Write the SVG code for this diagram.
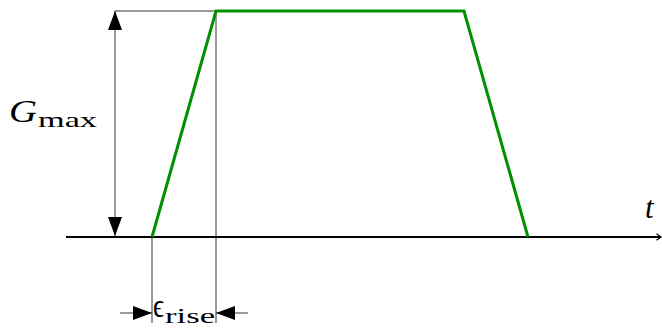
<svg xmlns="http://www.w3.org/2000/svg" width="662" height="329" viewBox="0 0 662 329">
<style>
.thin{stroke:#000;stroke-width:0.8;fill:none}
.axis{stroke:#000;stroke-width:2.2;fill:none}
.sig{stroke:#009000;stroke-width:3;fill:none;stroke-linejoin:miter}
.lbl{font-family:"Liberation Serif","DejaVu Serif",serif;fill:#000}
.it{font-style:italic}
</style>
<defs>
<marker id="ah" viewBox="0 0 19 14" refX="19" refY="7" markerWidth="19" markerHeight="14" markerUnits="userSpaceOnUse" orient="auto">
<path d="M0,0 L19,7 L0,14 Z" fill="#000"/>
</marker>
<marker id="tip" viewBox="0 0 6 8" refX="5" refY="4" markerWidth="6" markerHeight="8" markerUnits="userSpaceOnUse" orient="auto">
<path d="M0.5,0.8 L5,4 L0.5,7.2" fill="none" stroke="#000" stroke-width="1.2"/>
</marker>
</defs>
<g id="connectors">
<line class="axis" x1="66" y1="237" x2="661" y2="237" marker-end="url(#tip)"/>
<line class="thin" x1="115" y1="11" x2="216" y2="11"/>
<line class="thin" x1="115" y1="124" x2="115" y2="11" marker-end="url(#ah)"/>
<line class="thin" x1="115" y1="124" x2="115" y2="236" marker-end="url(#ah)"/>
<line class="thin" x1="152" y1="237" x2="152" y2="323"/>
<line class="thin" x1="216" y1="11" x2="216" y2="323"/>
<line class="thin" x1="120" y1="313" x2="152" y2="313" marker-end="url(#ah)"/>
<line class="thin" x1="248" y1="313" x2="216" y2="313" marker-end="url(#ah)"/>
</g>
<g id="signal">
<polyline class="sig" points="152,237 216,11 464,11 528,237"/>
</g>
<g id="label-gmax">
<text class="lbl it" x="9" y="122" font-size="31" textLength="28" lengthAdjust="spacingAndGlyphs">G</text>
<text class="lbl" x="38" y="127" font-size="22" textLength="59" lengthAdjust="spacingAndGlyphs">max</text>
</g>
<g id="label-t">
<text class="lbl it" x="645" y="218" font-size="31">t</text>
</g>
<g id="label-eps">
<text class="lbl" x="153" y="317" font-size="34" textLength="11" lengthAdjust="spacingAndGlyphs">ϵ</text>
<text class="lbl" x="165" y="323" font-size="22" textLength="50" lengthAdjust="spacingAndGlyphs">rise</text>
</g>
</svg>
